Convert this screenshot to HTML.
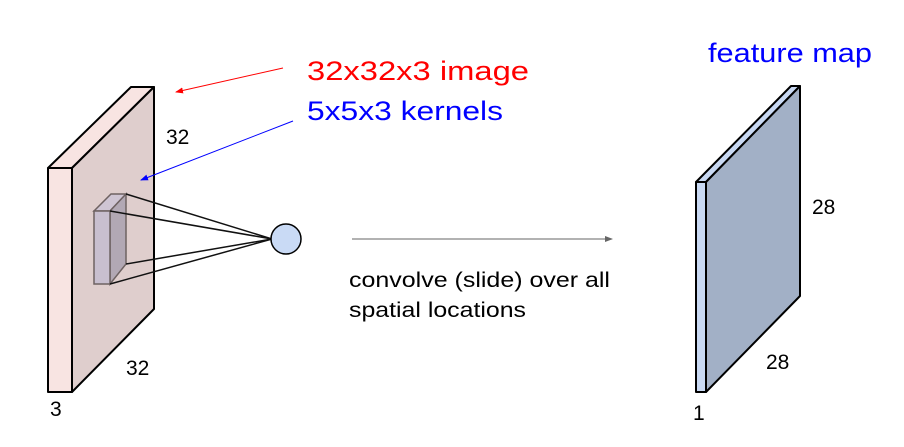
<!DOCTYPE html>
<html><head><meta charset="utf-8"><style>
body{margin:0;background:#fff;width:904px;height:447px;overflow:hidden}
svg{display:block;font-family:"Liberation Sans",sans-serif}
</style></head><body>
<svg width="904" height="447" viewBox="0 0 904 447">
<defs>
<marker id="ar" markerWidth="8" markerHeight="6" refX="7" refY="3" orient="auto"><path d="M0,0L8,3L0,6z" fill="red"/></marker>
<marker id="ab" markerWidth="8" markerHeight="6" refX="7" refY="3" orient="auto"><path d="M0,0L8,3L0,6z" fill="blue"/></marker>
<marker id="ag" markerWidth="8" markerHeight="6" refX="7" refY="3" orient="auto"><path d="M0,0L8,3L0,6z" fill="#666"/></marker>
</defs>
<g stroke="#000" stroke-width="2" stroke-linejoin="round">
<polygon points="48,168 72,168 154,87 131,87" fill="#f8e4e2"/>
<polygon points="72,168 154,87 154,309 72,392" fill="#dfcecd"/>
<rect x="48" y="168" width="24" height="224" fill="#f8e4e2"/>
</g>
<g stroke="#6e6262" stroke-width="1.5">
<polygon points="94,211 110,211 126,194 111,194" fill="#cfc5d3"/>
<polygon points="110,211 126,194 126,264 110,284" fill="#b2a8b4"/>
<rect x="94" y="211" width="16" height="73" fill="#c8bfcf"/>
</g>
<g stroke="#111" stroke-width="1.5">
<line x1="126" y1="194" x2="272" y2="239"/>
<line x1="110" y1="211" x2="272" y2="239"/>
<line x1="126" y1="264" x2="272" y2="239"/>
<line x1="110" y1="284" x2="272" y2="239"/>
</g>
<circle cx="286" cy="239" r="15" fill="#c9daf5" stroke="#000" stroke-width="1.5"/>
<line x1="283" y1="68" x2="176" y2="92" stroke="red" stroke-width="1" marker-end="url(#ar)"/>
<line x1="293" y1="121" x2="141" y2="180" stroke="blue" stroke-width="1" marker-end="url(#ab)"/>
<line x1="352" y1="239" x2="612" y2="239" stroke="#666" stroke-width="1" marker-end="url(#ag)"/>
<g stroke="#000" stroke-width="2" stroke-linejoin="round">
<polygon points="696,182 706,182 800,86 791,86" fill="#c9d9f3"/>
<polygon points="706,182 800,86 800,296 706,392" fill="#a2b0c6"/>
<rect x="696" y="182" width="10" height="210" fill="#c9d9f3"/>
</g>
<text x="307" y="80" font-size="27" fill="red" textLength="222" lengthAdjust="spacingAndGlyphs">32x32x3 image</text>
<text x="307" y="120" font-size="27" fill="blue" textLength="196" lengthAdjust="spacingAndGlyphs">5x5x3 kernels</text>
<text x="708" y="62" font-size="27" fill="blue" textLength="164" lengthAdjust="spacingAndGlyphs">feature map</text>
<g font-size="21" fill="#000">
<text x="166" y="144">32</text>
<text x="126" y="375">32</text>
<text x="50" y="416">3</text>
<text x="812" y="214">28</text>
<text x="766" y="369">28</text>
<text x="693" y="420">1</text>
<text x="349" y="287" textLength="261" lengthAdjust="spacingAndGlyphs">convolve (slide) over all</text>
<text x="349" y="317" textLength="177" lengthAdjust="spacingAndGlyphs">spatial locations</text>
</g>
</svg>
</body></html>
